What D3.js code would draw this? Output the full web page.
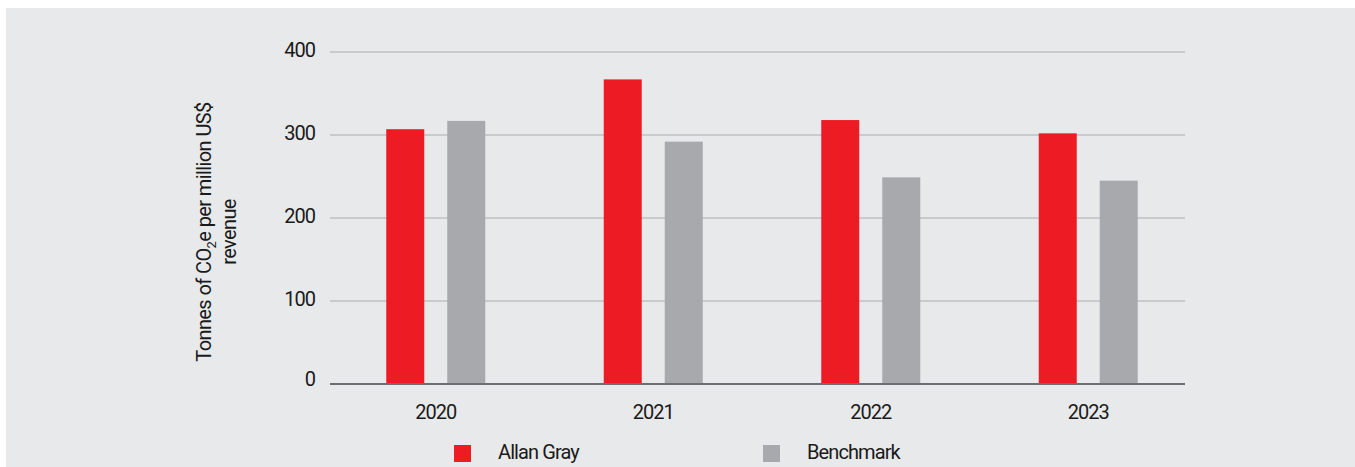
<!DOCTYPE html>
<html>
<head>
<meta charset="utf-8">
<script src="https://cdn.jsdelivr.net/npm/d3@7"></script>
<style>
  body { margin: 0; background: #fff; }
  text { font-family: Roboto, "Noto Sans", sans-serif; fill: #1a1a1a; }
</style>
</head>
<body>
<div id="chart"></div>
<script>
// data
var years = ["2020", "2021", "2022", "2023"];
var seriesNames = ["Allan Gray", "Benchmark"];
var allanGray = [307, 367, 318, 302];
var benchmark = [317, 292, 249, 245];
var yTicks = [0, 100, 200, 300, 400];
var colours = ["#ed1c24", "#a7a9ac"];

var width = 1355, height = 467;

var svg = d3.select("#chart")
    .append("svg")
    .attr("width", width)
    .attr("height", height);

// grey panel behind everything
svg.append("rect")
    .attr("x", 6)
    .attr("y", 8)
    .attr("width", width - 6)
    .attr("height", height - 8)
    .style("fill", "#e8e9eb");

var axisLeft = 330, axisRight = 1185;

var y = d3.scaleLinear()
    .domain([0, 400])
    .range([384, 52]);

// outer bands are a bit wider than the drawn axis line
var x0 = d3.scaleBand()
    .domain(years)
    .range([327, 1197])
    .padding(0);

var x1 = d3.scaleBand()
    .domain(seriesNames)
    .range([0, 99])
    .paddingInner(0.377)
    .paddingOuter(0);

var rows = years.map(function(yr, i) {
    return { year: yr, values: [allanGray[i], benchmark[i]] };
});

// gridlines
svg.append("g")
    .selectAll("line")
    .data(yTicks.filter(function(d) { return d > 0; }))
    .enter().append("line")
    .attr("x1", axisLeft)
    .attr("x2", axisRight)
    .attr("y1", function(d) { return y(d); })
    .attr("y2", function(d) { return y(d); })
    .style("stroke", "#c9cacc")
    .style("stroke-width", 2);

// y tick labels
svg.append("g")
    .selectAll("text")
    .data(yTicks)
    .enter().append("text")
    .attr("x", 315)
    .attr("y", function(d) { return y(d) - (d === 0 ? 5 : 2); })
    .attr("dy", "0.35em")
    .attr("text-anchor", "end")
    .style("font-size", "20px")
    .style("letter-spacing", "-1px")
    .text(function(d) { return d; });

// bars
var groups = svg.append("g")
    .selectAll("g")
    .data(rows)
    .enter().append("g")
    .attr("transform", function(d) {
        return "translate(" + (x0(d.year) + x0.bandwidth() / 2 - 49.5) + ",0)";
    });

groups.selectAll("rect")
    .data(function(d) {
        return d.values.map(function(v, i) { return { key: seriesNames[i], value: v, i: i }; });
    })
    .enter().append("rect")
    .attr("x", function(d) { return x1(d.key); })
    .attr("width", x1.bandwidth())
    .attr("y", function(d) { return y(d.value); })
    .attr("height", function(d) { return y(0) - y(d.value); })
    .style("fill", function(d) { return colours[d.i]; });

// baseline
svg.append("line")
    .attr("x1", axisLeft)
    .attr("x2", axisRight)
    .attr("y1", y(0))
    .attr("y2", y(0))
    .style("stroke", "#6d6e71")
    .style("stroke-width", 2);

// year labels
svg.append("g")
    .selectAll("text")
    .data(years)
    .enter().append("text")
    .attr("x", function(d) { return x0(d) + x0.bandwidth() / 2; })
    .attr("y", 419)
    .attr("text-anchor", "middle")
    .style("font-size", "20px")
    .style("letter-spacing", "-1px")
    .text(function(d) { return d; });

// y axis title, rotated, two lines
var title = svg.append("text")
    .attr("transform", "translate(211,232) rotate(-90)")
    .attr("text-anchor", "middle")
    .style("font-size", "20px")
    .style("letter-spacing", "-0.6px");

var line1 = title.append("tspan").attr("x", 0).attr("y", 0);
line1.append("tspan").text("Tonnes of CO");
line1.append("tspan").attr("dy", 5).style("font-size", "13px").text("2");
line1.append("tspan").attr("dy", -5).text("e per million US$");

title.append("tspan")
    .attr("x", 0)
    .attr("y", 25)
    .text("revenue");

// legend
var legendX = [454, 763];
var legend = svg.append("g")
    .selectAll("g")
    .data(seriesNames)
    .enter().append("g")
    .attr("transform", function(d, i) { return "translate(" + legendX[i] + ",445)"; });

legend.append("rect")
    .attr("width", 17)
    .attr("height", 17)
    .style("fill", function(d, i) { return colours[i]; });

legend.append("text")
    .attr("x", 44)
    .attr("y", 14)
    .style("font-size", "20px")
    .style("letter-spacing", "-0.9px")
    .text(function(d) { return d; });
</script>
</body>
</html>
